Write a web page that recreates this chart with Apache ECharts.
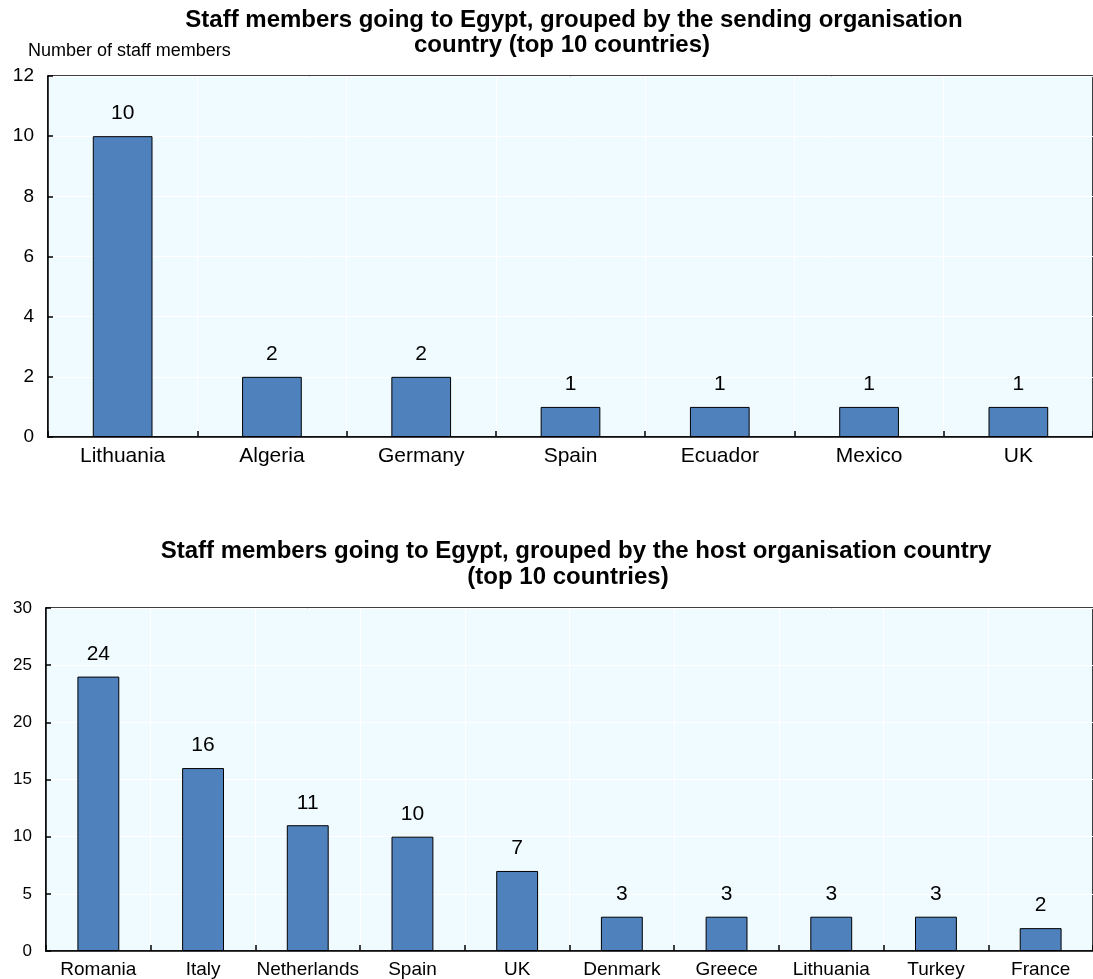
<!DOCTYPE html>
<html>
<head>
<meta charset="utf-8">
<script src="https://cdn.jsdelivr.net/npm/echarts@6/dist/echarts.min.js"></script>
<style>html,body{margin:0;padding:0;background:#fff;}#c{width:1093px;height:979px;}</style>
</head>
<body>
<div id="c"></div>
<script>
const sendingCountries = ['Lithuania', 'Algeria', 'Germany', 'Spain', 'Ecuador', 'Mexico', 'UK'];
const sendingValues = [10, 2, 2, 1, 1, 1, 1];
const hostCountries = ['Romania', 'Italy', 'Netherlands', 'Spain', 'UK', 'Denmark', 'Greece', 'Lithuania', 'Turkey', 'France'];
const hostValues = [24, 16, 11, 10, 7, 3, 3, 3, 3, 2];
const title1Lines = ['Staff members going to Egypt, grouped by the sending organisation', 'country (top 10 countries)'];
const title2Lines = ['Staff members going to Egypt, grouped by the host organisation country', '(top 10 countries)'];
const yAxisName = 'Number of staff members';

const FONT = 'Liberation Sans, Arial, sans-serif';
const chart = echarts.init(document.getElementById('c'), null, {renderer: 'canvas'});

function xAx(gridIndex, data, fs) {
  return {
    type: 'category', gridIndex, data,
    axisLine: {show: true, lineStyle: {color: '#000', width: 1.5}},
    axisTick: {show: true, inside: true, length: 6, lineStyle: {color: '#000', width: 1.5}},
    axisLabel: {color: '#000', fontSize: fs, fontFamily: FONT, margin: 9, interval: 0},
    splitLine: {show: true, lineStyle: {color: '#ffffff', width: 1}}
  };
}
function yAx(gridIndex, max, interval, fs) {
  return {
    type: 'value', gridIndex, min: 0, max, interval,
    axisLine: {show: true, lineStyle: {color: '#000', width: 1.5}},
    axisTick: {show: true, inside: true, length: 5, lineStyle: {color: '#000', width: 1.5}},
    axisLabel: {color: '#000', fontSize: fs, fontFamily: FONT, margin: 14},
    splitLine: {show: true, lineStyle: {color: '#ffffff', width: 1}}
  };
}
function bars(idx, data) {
  return {
    type: 'bar', xAxisIndex: idx, yAxisIndex: idx, data,
    barWidth: '40%',
    itemStyle: {color: '#4F81BD', borderColor: '#000', borderWidth: 1},
    label: {show: true, position: 'top', distance: 12, color: '#000', fontSize: 21, fontFamily: FONT},
    silent: true, animation: false
  };
}
function titleLine(text, x, top) {
  return {text, left: x, top, textAlign: 'center',
    textStyle: {fontSize: 24, fontWeight: 'bold', color: '#000', fontFamily: FONT, lineHeight: 26}};
}

chart.setOption({
  animation: false,
  backgroundColor: '#ffffff',
  title: [
    titleLine(title1Lines[0], 569, 2),
    titleLine(title1Lines[1], 557, 27),
    {text: yAxisName, left: 23, top: 37,
     textStyle: {fontSize: 18, fontWeight: 'normal', color: '#000', fontFamily: FONT}},
    titleLine(title2Lines[0], 571, 533),
    titleLine(title2Lines[1], 563, 559)
  ],
  grid: [
    {left: 48, top: 76, width: 1048, height: 361, show: true, backgroundColor: '#F0FBFF', borderColor: '#000', borderWidth: 1.5},
    {left: 46, top: 608, width: 1052, height: 345, show: true, backgroundColor: '#F0FBFF', borderColor: '#000', borderWidth: 1.5}
  ],
  xAxis: [xAx(0, sendingCountries, 21), xAx(1, hostCountries, 19)],
  yAxis: [yAx(0, 12, 2, 19), yAx(1, 30, 5, 17)],
  series: [bars(0, sendingValues), bars(1, hostValues)]
});
</script>
</body>
</html>
